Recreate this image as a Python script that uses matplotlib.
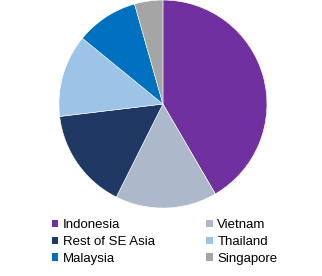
import matplotlib.pyplot as plt

# Share of market by country (%)
countries = ['Indonesia', 'Vietnam', 'Rest of SE Asia', 'Thailand', 'Malaysia', 'Singapore']
shares = [41.6, 15.8, 15.7, 12.8, 9.7, 4.4]
colors = ['#7030A0', '#ADB9CA', '#203864', '#9DC3E6', '#0070C0', '#A5A5A5']

plt.rcParams['font.family'] = ['Liberation Sans', 'DejaVu Sans']

fig = plt.figure(figsize=(3.22, 2.76), dpi=100)
ax = fig.add_axes([0.183, 0.246, 0.646, 0.754])

wedges, _ = ax.pie(shares, colors=colors, startangle=90, counterclock=False,
                   wedgeprops=dict(edgecolor='white', linewidth=0.4))
ax.set_xlim(-1.0, 1.0)
ax.set_ylim(-1.0, 1.0)
ax.set_aspect('equal')

# legend fills row by row in the original, matplotlib fills column by column
order = [0, 2, 4, 1, 3, 5]
leg = fig.legend([wedges[i] for i in order], [countries[i] for i in order],
                 ncol=2, loc='upper left', bbox_to_anchor=(0.16, 0.205),
                 frameon=False, fontsize=9.5, handlelength=0.5, handleheight=0.5,
                 handletextpad=0.35, columnspacing=3.9, labelspacing=0.36,
                 borderpad=0, borderaxespad=0)
for p in leg.get_patches():
    p.set_edgecolor('none')

plt.savefig('out.png', dpi=100)
